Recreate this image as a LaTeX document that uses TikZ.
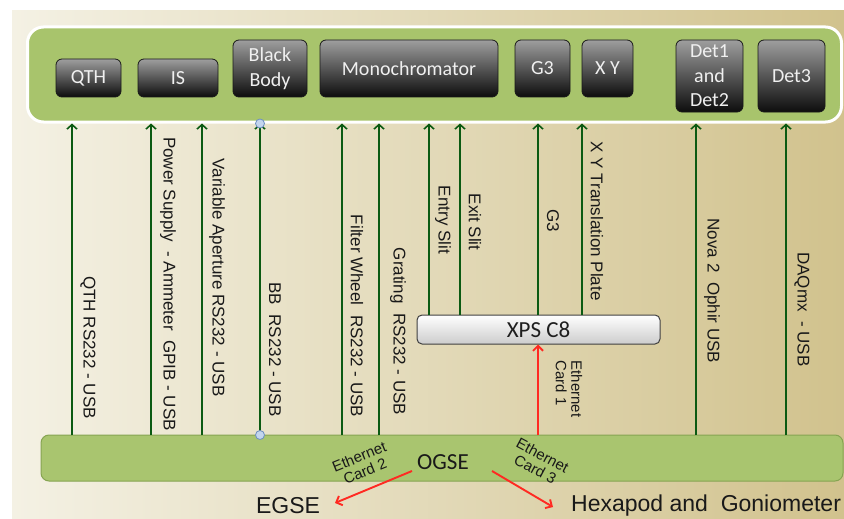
\documentclass[tikz,border=0pt]{standalone}
\usepackage{fontspec}
\setmainfont{Liberation Sans}
\newfontfamily\calfont{Carlito}
\usetikzlibrary{arrows.meta,calc}
\definecolor{panelgreen}{HTML}{A8C46C}
\definecolor{bargreen}{HTML}{A9C56F}
\definecolor{barline}{HTML}{86A452}
\definecolor{wire}{HTML}{0B5A12}
\definecolor{redwire}{HTML}{FF2A22}
\definecolor{bgleft}{HTML}{F4F1E4}
\definecolor{bgmid}{HTML}{E3DAB9}
\definecolor{bgright}{HTML}{D1C28D}
\definecolor{dottop}{HTML}{C3D5EE}
\definecolor{dotline}{HTML}{6D8FC0}
\tikzset{
  darkbox/.style={draw=black!90, line width=0.8pt, rounded corners=6pt, top color=black!38, bottom color=black!95,
    text=white!94!black, font=\calfont\fontsize{20}{24.5}\selectfont, align=center, inner sep=0pt},
  garrow/.style={draw=wire, line width=1.6pt, -{Straight Barb[length=4.5pt,width=10pt]}},
  rarrow/.style={draw=redwire, line width=1.9pt, -{Straight Barb[length=5pt,width=10pt]}},
  vlabel/.style={rotate=-90, font=\fontsize{17}{20}\selectfont, inner sep=0pt, text=black!90},
  smalllabel/.style={font=\fontsize{15}{15.5}\selectfont, inner sep=0pt, text=black!90},
  bigtext/.style={font=\fontsize{23}{26}\selectfont, inner sep=0pt, text=black!90},
  dot/.style={circle, draw=dotline, fill=dottop, line width=0.8pt, minimum size=9pt, inner sep=0pt}
}
\begin{document}
\begin{tikzpicture}[x=1pt,y=-1pt]
\useasboundingbox (0,0) rectangle (844,519);
% background
\shade[left color=bgleft, middle color=bgmid, right color=bgright] (12,11) rectangle (844,519);
% top panel
\node[draw=white, line width=3pt, fill=panelgreen, rounded corners=16pt, minimum width=814pt, minimum height=95pt, inner sep=0pt] (panel) at (434.5,74.5) {};
% boxes
\node[darkbox, minimum width=65pt, minimum height=38pt] (qth) at (88.5,78) {QTH};
\node[darkbox, minimum width=80pt, minimum height=38pt] (is) at (178,78) {IS};
\node[darkbox, minimum width=74pt, minimum height=57pt] (bb) at (270,68.5) {Black\\Body};
\node[darkbox, minimum width=178pt, minimum height=57pt] (mono) at (409,68.5) {Monochromator};
\node[darkbox, minimum width=55pt, minimum height=57pt] (g3) at (542.5,68.5) {G3};
\node[darkbox, minimum width=51pt, minimum height=57pt] (xy) at (607.5,68.5) {X Y};
\node[darkbox, minimum width=67pt, minimum height=72pt] (det12) at (709.5,76) {Det1\\and\\Det2};
\node[darkbox, minimum width=67pt, minimum height=72pt] (det3) at (791.5,76) {Det3};
% OGSE bar
\node[draw=barline, line width=1pt, fill=bargreen, rounded corners=8pt, minimum width=802pt, minimum height=46pt, inner sep=0pt, outer sep=0pt] (bar) at (442,458) {};
% XPS box
\node[draw=black!75, line width=1pt, rounded corners=5pt, top color=white, bottom color=black!20, minimum width=243pt, minimum height=29pt, inner sep=0pt,
  font=\calfont\fontsize{23}{26}\selectfont, text=black!88] (xps) at (538.5,329.5) {XPS C8};
% column coordinates
\foreach \n/\x in {c1/72,c2/151,c3/202,c4/260,c5/342,c6/379,c7/429,c8/460,c9/538,c10/582,c11/696,c12/786}
  \coordinate (\n) at (\x,0);
% arrows from bar to panel
\foreach \n in {c1,c2,c3,c4,c5,c6,c11,c12}
  \draw[garrow] (bar.north -| \n) -- (panel.south -| \n);
% arrows from XPS to panel
\foreach \n in {c7,c8,c9,c10}
  \draw[garrow] (xps.north -| \n) -- (panel.south -| \n);
% red arrow bar -> XPS
\draw[rarrow] (bar.north -| c9) -- (xps.south -| c9);
% dots
\node[dot] (dtop) at (panel.south -| c4) {};
\node[dot] (dbot) at (bar.north -| c4) {};
% vertical labels
\node[vlabel] (l1) at (88,347.5) {QTH RS232 - USB};
\node[vlabel] (l2) at (168,284) {Power Supply \ - Ammeter \ GPIB - USB};
\node[vlabel] (l3) at (217,277.5) {Variable Aperture RS232 - USB};
\node[vlabel] (l4) at (275,349.5) {BB \ RS232 - USB};
\node[vlabel] (l5) at (357,316) {Filter Wheel \ RS232 - USB};
\node[vlabel] (l6) at (398,331.5) {Grating \ RS232 - USB};
\node[vlabel] (l7) at (443,220) {Entry Slit};
\node[vlabel] (l8) at (475,222) {Exit Slit};
\node[vlabel] (l9) at (553,221) {G3};
\node[vlabel] (l10) at (597,221) {X Y Translation Plate};
\node[vlabel] (l11) at (712,291) {Nova 2 \ Ophir USB};
\node[vlabel] (l12) at (802,309.5) {DAQmx \ - USB};
\node[smalllabel, rotate=-90, align=left] (eth1) at (569,389) {Ethernet\\Card 1};
% bottom texts
\node[font=\calfont\fontsize{23}{26}\selectfont, inner sep=0pt, text=black!90] (ogse) at (443,462) {OGSE};
\node[smalllabel, rotate=22, align=center] (eth2) at (362,464) {Ethernet\\Card 2};
\node[smalllabel, rotate=-28, align=center] (eth3) at (539,462) {Ethernet\\Card 3};
\node[bigtext] (egse) at (288,506) {EGSE};
\node[bigtext, anchor=west] (hexa) at (571,506) {Hexapod and \ Goniometer};
\coordinate (ra1) at (412,471);
\coordinate (ra2) at (335,503);
\coordinate (rb1) at (492,471);
\coordinate (rb2) at (553,507);
\draw[rarrow] (ra1) -- (ra2);
\draw[rarrow] (rb1) -- (rb2);
\end{tikzpicture}
\end{document}
